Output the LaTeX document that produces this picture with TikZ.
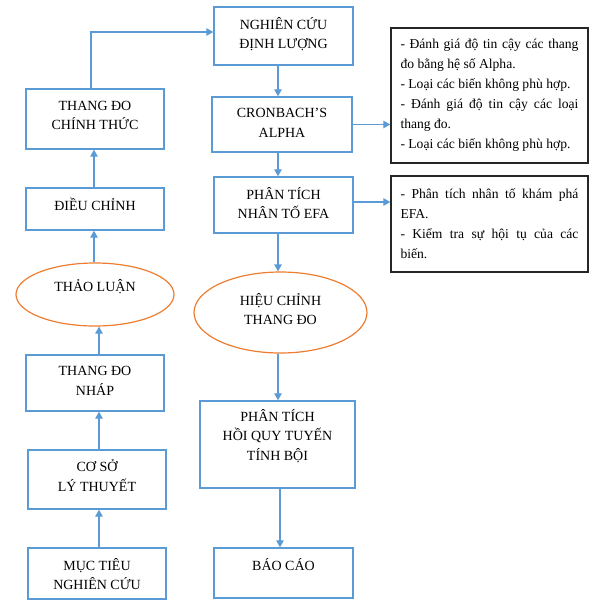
\documentclass[tikz,border=0pt]{standalone}
\usepackage{fontspec}
\setmainfont{Liberation Serif}
\usetikzlibrary{shapes.geometric,arrows.meta}
\definecolor{bl}{HTML}{5B9BD5}
\definecolor{og}{HTML}{ED7D31}
\begin{document}
\begin{tikzpicture}[x=1pt,y=-1pt,
  box/.style={draw=bl, line width=1.4pt, inner sep=0pt, rectangle},
  oval/.style={draw=og, line width=1.2pt, ellipse, inner sep=0pt},
  lbl/.style={align=center, font=\fontsize{14}{19.5}\selectfont, inner sep=0pt},
  note/.style={draw=black!85, line width=1.4pt, text width=178pt, align=justify,
    font=\fontsize{13.6}{20}\selectfont, inner sep=0pt, minimum width=197pt},
  arr/.style={draw=bl, line width=1.2pt, -{Triangle[length=7pt,width=7.5pt]}}]
\useasboundingbox (0,0) rectangle (594,614);
% left column
\node[box, minimum width=138pt, minimum height=60pt] (ct) at (95,119) {};
\node[box, minimum width=138pt, minimum height=42pt] (dc) at (95,209) {};
\node[oval, minimum width=158pt, minimum height=63pt] (tl) at (95,294.5) {};
\node[box, minimum width=138pt, minimum height=56pt] (nh) at (95,383) {};
\node[box, minimum width=138pt, minimum height=59pt] (cs) at (97,479.5) {};
\node[box, minimum width=138pt, minimum height=51pt] (mt) at (97,573.5) {};
% middle column
\node[box, minimum width=139pt, minimum height=58pt] (nc) at (283.5,36) {};
\node[box, minimum width=140pt, minimum height=55pt] (cr) at (282,124.5) {};
\node[box, minimum width=139pt, minimum height=56pt] (efa) at (283.5,205) {};
\node[oval, minimum width=173pt, minimum height=81pt] (hc) at (280.5,312.5) {};
\node[box, minimum width=155pt, minimum height=87pt] (hq) at (277.5,444.5) {};
\node[box, minimum width=139pt, minimum height=50pt] (bc) at (283.5,573) {};
% labels
\node[lbl] (tct) at (95,115.5) {THANG ĐO\\CHÍNH THỨC};
\node[lbl] (tdc) at (95,204) {ĐIỀU CHỈNH};
\node[lbl] (ttl) at (95,287) {THẢO LUẬN};
\node[lbl] (tnh) at (95,381) {THANG ĐO\\NHÁP};
\node[lbl] (tcs) at (97,475.5) {CƠ SỞ\\LÝ THUYẾT};
\node[lbl] (tmt) at (97,574) {MỤC TIÊU\\NGHIÊN CỨU};
\node[lbl] (tnc) at (283.5,34) {NGHIÊN CỨU\\ĐỊNH LƯỢNG};
\node[lbl] (tcr) at (282,123) {CRONBACH’S\\ALPHA};
\node[lbl] (tefa) at (283.5,203) {PHÂN TÍCH\\NHÂN TỐ EFA};
\node[lbl] (thc) at (280.5,309) {HIỆU CHỈNH\\THANG ĐO};
\node[lbl] (thq) at (277.5,436) {PHÂN TÍCH\\HỒI QUY TUYẾN\\TÍNH BỘI};
\node[lbl] (tbc) at (283.5,565) {BÁO CÁO};
% right notes
\node[note, minimum height=135pt] (r1) at (489.5,95.5)
  {- Đánh giá độ tin cậy các thang\linebreak đo bằng hệ số Alpha.\\
   - Loại các biến không phù hợp.\\
   - Đánh giá độ tin cậy các loại\linebreak thang đo.\\
   - Loại các biến không phù hợp.};
\node[note, minimum height=96pt] (r2) at (489.5,224)
  {- Phân tích nhân tố khám phá\linebreak EFA.\\
   - Kiểm tra sự hội tụ của các\linebreak biến.};
% helper coordinates
\coordinate (la) at (99,0);
\coordinate (lb) at (94,0);
\coordinate (lc) at (91,32);
\coordinate (mx) at (278,0);
\coordinate (my) at (280,0);
\coordinate (ey) at (0,202);
% connectors
\draw[arr] (mt.north -| la) -- (cs.south -| la);
\draw[arr] (cs.north -| la) -- (nh.south -| la);
\draw[arr] (nh.north -| la) -- (tl.south -| la);
\draw[arr] (tl.north -| lb) -- (dc.south -| lb);
\draw[arr] (dc.north -| lb) -- (ct.south -| lb);
\draw[arr] (ct.north -| lc) |- (nc.west |- lc);
\draw[arr] (nc.south -| mx) -- (cr.north -| mx);
\draw[arr] (cr.south -| mx) -- (efa.north -| mx);
\draw[arr] (efa.south -| mx) -- (hc.north -| mx);
\draw[arr] (hc.south -| mx) -- (hq.north -| mx);
\draw[arr] (hq.south -| my) -- (bc.north -| my);
\draw[arr] (cr.east) -- (r1.west |- cr.east);
\draw[arr] (efa.east |- ey) -- (r2.west |- ey);
\end{tikzpicture}
\end{document}
